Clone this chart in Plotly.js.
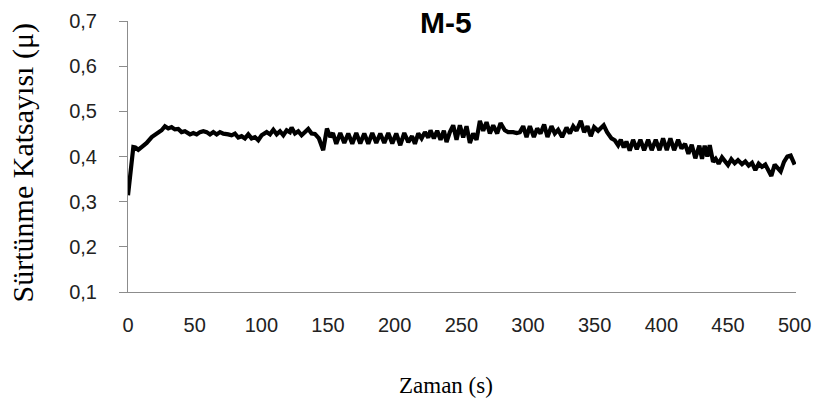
<!DOCTYPE html>
<html>
<head>
<meta charset="utf-8">
<script src="https://cdn.plot.ly/plotly-3.0.1.min.js"></script>
<style>html,body{margin:0;padding:0;background:#fff;}#chart{width:819px;height:408px;}</style>
</head>
<body>
<div id="chart"></div>
<script>
const chartTitle = "M-5";
const xTitle = "Zaman (s)";
const yTitle = "Sürtünme Katsayısı (μ)";
const xTickVals = [0, 50, 100, 150, 200, 250, 300, 350, 400, 450, 500];
const yTickVals = [0.1, 0.2, 0.3, 0.4, 0.5, 0.6, 0.7];
const yTickText = ["0,1", "0,2", "0,3", "0,4", "0,5", "0,6", "0,7"];

const time = [
  0, 4, 5.5, 7.7, 10.2, 12, 14, 17.8, 21.5, 25.2, 27.7, 30.2, 32.7, 35.2, 37.7, 40.2, 42.7, 46.5, 49, 51.5,
  54, 56.5, 59, 61.5, 64, 66.5, 69, 71.5, 75.2, 77.7, 80.2, 82.7, 85.2, 87.7, 90.2, 92.7, 95.2, 97.7, 100.2, 104,
  106.5, 109, 111.5, 114, 116.5, 119, 121.4, 122.7, 125.2, 127.7, 130.2, 132.7, 135.2, 137.7, 140.2, 143.2, 146.4, 149.2, 151.7, 153.7,
  156.2, 159.2, 162.2, 165.2, 168.2, 171.2, 174.2, 177.2, 180.2, 183.2, 186.2, 189.2, 192.2, 195.2, 198.2, 201.2, 204.2, 207.2, 210.2, 213,
  215.2, 217.7, 220.2, 222.7, 225.2, 226.9, 229.4, 231.9, 234.4, 236.9, 238.9, 241.4, 243.9, 246.4, 248.9, 251.4, 253.9, 256.4, 258.9, 261.4,
  263.9, 266.4, 268.9, 271.4, 273.9, 276.9, 279.4, 282.6, 285.1, 288.9, 291.5, 293.9, 296.4, 298.9, 301.4, 304.4, 306.9, 309.4, 312.1, 314.6,
  317.6, 320.1, 322.6, 325.6, 328.9, 331.4, 333.9, 336.4, 339.6, 342.1, 344.6, 347.1, 349.6, 352.6, 355.1, 356.8, 359.3, 362.6, 365.1, 367.6,
  369.6, 371.8, 373.8, 376.3, 378.8, 381.6, 384.3, 387.1, 390.1, 392.8, 395.8, 398.6, 401.3, 404.1, 406.8, 409.6, 412.6, 415.1, 417.8, 420.3,
  422.8, 425.5, 428.5, 430.5, 432.5, 434.5, 436.3, 438.8, 440.8, 443, 445.5, 448, 450, 452.5, 455, 457.5, 460.5, 463, 465.5, 468,
  470.5, 473, 475.5, 478, 480.5, 482.5, 485, 487.5, 489.5, 492, 494.5, 497, 500
];
const mu = [
  0.314, 0.421, 0.420, 0.415, 0.421, 0.425, 0.430, 0.443, 0.451, 0.458, 0.467, 0.462, 0.465, 0.460, 0.461, 0.454, 0.456, 0.449, 0.452, 0.449,
  0.454, 0.456, 0.454, 0.449, 0.454, 0.449, 0.454, 0.4506, 0.449, 0.447, 0.4506, 0.442, 0.445, 0.440, 0.449, 0.440, 0.443, 0.436, 0.447, 0.454,
  0.449, 0.459, 0.449, 0.456, 0.447, 0.458, 0.454, 0.464, 0.451, 0.456, 0.447, 0.454, 0.461, 0.451, 0.450, 0.440, 0.414, 0.462, 0.443, 0.452,
  0.428, 0.452, 0.430, 0.451, 0.428, 0.452, 0.429, 0.451, 0.428, 0.452, 0.430, 0.451, 0.430, 0.452, 0.429, 0.451, 0.425, 0.452, 0.432, 0.445,
  0.428, 0.451, 0.440, 0.454, 0.442, 0.458, 0.440, 0.457, 0.437, 0.457, 0.432, 0.454, 0.469, 0.437, 0.469, 0.442, 0.467, 0.430, 0.451, 0.437,
  0.479, 0.457, 0.476, 0.451, 0.469, 0.451, 0.474, 0.458, 0.454, 0.454, 0.452, 0.454, 0.467, 0.443, 0.467, 0.443, 0.462, 0.451, 0.471, 0.443,
  0.467, 0.451, 0.459, 0.443, 0.464, 0.451, 0.467, 0.457, 0.479, 0.454, 0.467, 0.445, 0.465, 0.457, 0.466, 0.469, 0.454, 0.440, 0.436, 0.425,
  0.437, 0.420, 0.433, 0.413, 0.437, 0.416, 0.437, 0.414, 0.437, 0.414, 0.437, 0.414, 0.440, 0.414, 0.440, 0.414, 0.437, 0.418, 0.428, 0.406,
  0.426, 0.396, 0.424, 0.395, 0.424, 0.400, 0.425, 0.388, 0.395, 0.384, 0.398, 0.390, 0.381, 0.394, 0.385, 0.392, 0.383, 0.389, 0.380, 0.386,
  0.370, 0.384, 0.377, 0.382, 0.368, 0.357, 0.382, 0.372, 0.367, 0.388, 0.400, 0.402, 0.382
];

const trace = {
  x: time, y: mu, type: "scatter", mode: "lines",
  line: {color: "#000000", width: 4.2, shape: "linear"},
  hoverinfo: "skip"
};

const layout = {
  width: 819, height: 408,
  margin: {l: 128, r: 23, t: 21, b: 116, pad: 0},
  paper_bgcolor: "#ffffff", plot_bgcolor: "#ffffff",
  showlegend: false,
  font: {family: "Liberation Sans, Arial, sans-serif", color: "#222222", size: 20},
  xaxis: {
    range: [0, 501], tickmode: "array", tickvals: xTickVals, ticktext: xTickVals.map(String),
    showgrid: false, zeroline: false, showline: true, linecolor: "#8c8c8c", linewidth: 1,
    ticks: "", ticklabelstandoff: 15, tickfont: {size: 20, color: "#222222"}
  },
  yaxis: {
    range: [0.1, 0.7], tickmode: "array", tickvals: yTickVals, ticktext: yTickText,
    showgrid: false, zeroline: false, showline: true, linecolor: "#8c8c8c", linewidth: 1,
    ticks: "outside", ticklen: 8, tickcolor: "#8c8c8c", tickwidth: 1,
    ticklabelstandoff: 18, tickfont: {size: 20, color: "#222222"}
  },
  annotations: [
    {text: "<b>" + chartTitle + "</b>", xref: "paper", yref: "paper", x: 0.476, y: 0.995,
     xanchor: "center", yanchor: "middle", showarrow: false,
     font: {family: "Liberation Sans, Arial, sans-serif", size: 30, color: "#000000"}},
    {text: xTitle, xref: "paper", yref: "paper", x: 0.476, y: -0.345,
     xanchor: "center", yanchor: "middle", showarrow: false,
     font: {family: "Liberation Serif, Times New Roman, serif", size: 23, color: "#000000"}},
    {text: yTitle, xref: "paper", yref: "paper", x: -0.157, y: 0.475, textangle: -90,
     xanchor: "center", yanchor: "middle", showarrow: false,
     font: {family: "Liberation Serif, Times New Roman, serif", size: 30, color: "#000000"}}
  ]
};

Plotly.newPlot("chart", [trace], layout, {displayModeBar: false, staticPlot: true});
</script>
</body>
</html>
